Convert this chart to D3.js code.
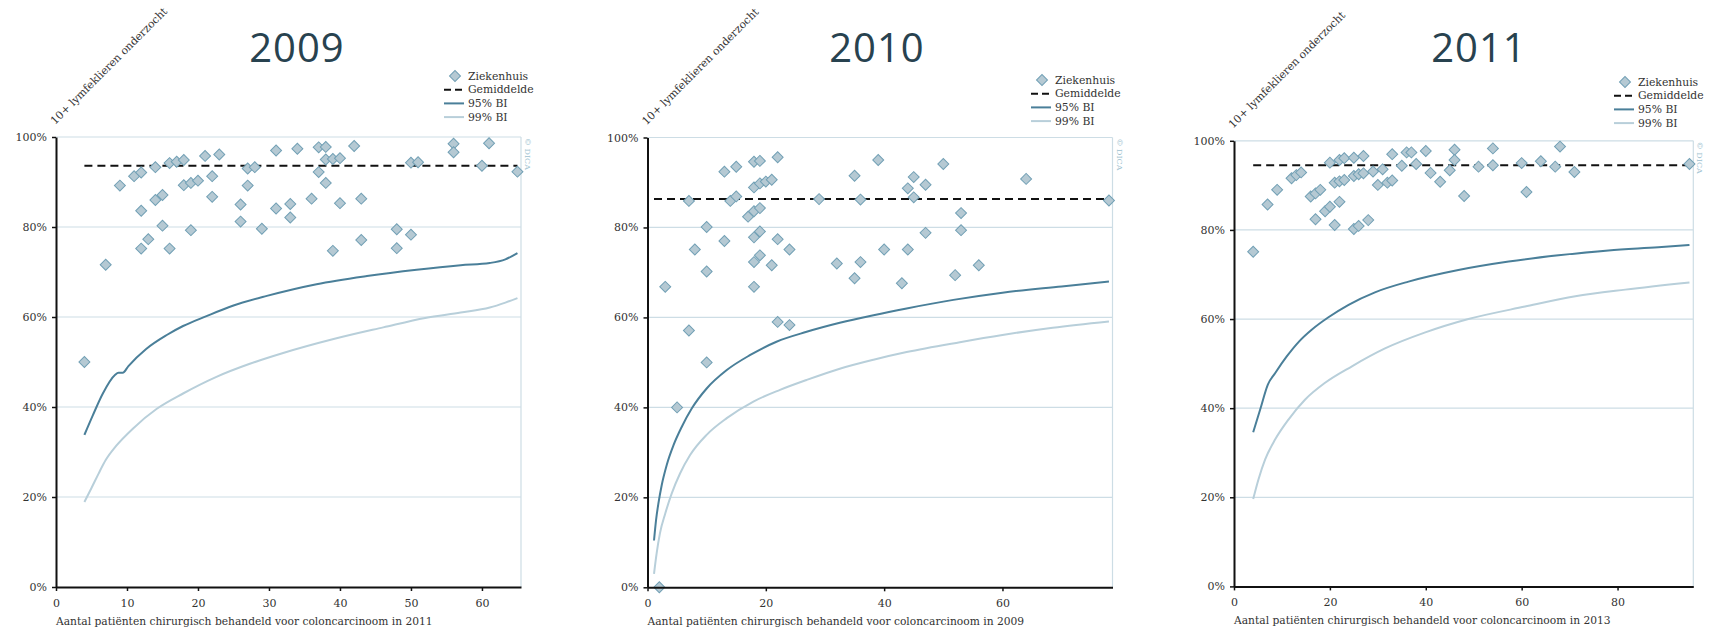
<!DOCTYPE html>
<html>
<head>
<meta charset="utf-8">
<script src="https://cdn.jsdelivr.net/npm/d3@7"></script>
<style>
  body { margin: 0; background: #ffffff; }
  svg { display: block; }
  .tick text { font-family: "DejaVu Serif", serif; font-size: 11px; fill: #333; }
</style>
</head>
<body>
<svg id="chart" width="1713" height="630"></svg>
<script>
// ---- data -------------------------------------------------------------
const years = ["2009", "2010", "2011"];
const axisTitles = [
  "Aantal patiënten chirurgisch behandeld voor coloncarcinoom in 2011",
  "Aantal patiënten chirurgisch behandeld voor coloncarcinoom in 2009",
  "Aantal patiënten chirurgisch behandeld voor coloncarcinoom in 2013"
];
const yLabel = "10+ lymfeklieren onderzocht";
const legendLabels = ["Ziekenhuis", "Gemiddelde", "95% BI", "99% BI"];
const yTicks = [0, 20, 40, 60, 80, 100];
const xTicks2009 = [0, 10, 20, 30, 40, 50, 60];
const xTicks2010 = [0, 20, 40, 60];
const xTicks2011 = [0, 20, 40, 60, 80];

// hospitals: [patients, % with 10+ lymph nodes examined]
const hospitals2009 = [
  [4,50.0],[7,71.6],[9,89.2],[11,91.3],[12,92.1],[12,83.6],[12,75.2],[13,77.3],[14,93.3],[14,86.0],
  [15,87.1],[15,80.3],[16,94.2],[16,75.2],[17,94.5],[18,94.9],[18,89.3],[19,89.8],[19,79.3],[20,90.3],
  [21,95.8],[22,91.3],[22,86.7],[23,96.1],[26,85.0],[26,81.2],[27,93.0],[27,89.2],[28,93.3],[29,79.6],
  [31,97.0],[31,84.1],[33,85.1],[33,82.1],[34,97.4],[36,86.3],[37,97.7],[37,92.2],[38,97.8],[38,95.0],
  [38,89.8],[39,95.1],[39,74.7],[40,95.3],[40,85.3],[42,98.0],[43,86.3],[43,77.1],[48,79.5],[48,75.3],
  [50,94.3],[50,78.3],[51,94.4],[56,98.5],[56,96.6],[60,93.6],[61,98.6],[65,92.3]
];
const hospitals2010 = [
  [2,0],[3,66.8],[5,40.0],[7,85.9],[7,57.1],[8,75.1],[10,80.1],[10,70.2],[10,50.0],[13,92.4],
  [13,77.0],[14,85.9],[15,93.5],[15,86.9],[17,82.4],[18,94.6],[18,88.9],[18,83.6],[18,77.8],[18,72.3],
  [18,66.8],[19,94.8],[19,89.8],[19,84.3],[19,79.1],[19,73.8],[20,90.2],[21,90.6],[21,71.6],[22,95.6],
  [22,77.4],[22,59.0],[24,75.1],[24,58.3],[29,86.3],[32,72.0],[35,91.5],[35,68.7],[36,86.2],[36,72.3],
  [39,95.0],[40,75.1],[43,67.6],[44,88.7],[44,75.1],[45,91.2],[45,86.7],[47,89.5],[47,78.8],[50,94.1],
  [52,69.4],[53,83.2],[53,79.4],[56,71.6],[64,90.8],[78,86.0]
];
const hospitals2011 = [
  [4,75.1],[7,85.7],[9,89.0],[12,91.6],[13,92.3],[14,92.9],[16,87.5],[17,88.2],[17,82.4],[18,89.0],
  [19,84.2],[20,95.1],[20,85.2],[21,90.6],[21,81.1],[22,95.7],[22,90.9],[22,86.3],[23,96.1],[23,91.2],
  [25,96.2],[25,92.1],[25,80.2],[26,80.9],[26,92.5],[27,96.6],[27,92.7],[28,82.2],[29,93.1],[30,90.1],
  [31,93.6],[32,90.6],[33,97.0],[33,91.1],[35,94.4],[36,97.4],[37,97.4],[38,94.8],[40,97.7],[41,92.8],
  [43,90.8],[45,93.4],[46,98.0],[46,95.7],[48,87.6],[51,94.2],[54,98.3],[54,94.5],[60,95.0],[61,88.5],
  [64,95.4],[67,94.2],[68,98.7],[71,93.0],[95,94.8]
];

// national averages (%)
const mean2009 = 93.6;
const mean2010 = 86.35;
const mean2011 = 94.5;

// lower control limits: [patients, %]
const ci95_2009 = [
  [4,33.8],[5.2,38.2],[6.6,43.0],[8.3,47.1],[8.8,47.6],[9.4,47.6],[10.2,49.1],[12.7,52.9],[15.6,56.0],
  [17.9,58.0],[21.2,60.2],[24.9,62.5],[29.7,64.7],[36.7,67.3],[43.8,69.1],[50.8,70.5],[57,71.5],
  [61.1,72.0],[63.3,72.8],[65,74.2]
];
const ci99_2009 = [
  [4,18.9],[5,22.0],[6,25.2],[7,28.2],[8.5,31.4],[10.9,35.3],[14.2,39.6],[17.9,43.0],[22.6,46.7],
  [27.3,49.6],[32,52.0],[39.1,55.1],[46.1,57.7],[52,59.8],[57,61.0],[61.1,62.1],[63.3,63.2],[65,64.2]
];
const ci95_2010 = [
  [1.1,10.4],[1.45,15.0],[1.85,18.7],[2.4,22.7],[3.25,27.2],[4.4,31.6],[5.8,35.7],[7.5,39.8],[10,44.2],
  [13.4,48.3],[17.3,51.6],[21.8,54.6],[26.9,56.8],[32.5,58.8],[38.2,60.5],[43.8,62.0],[51.7,63.9],
  [60,65.5],[70,66.9],[78,68.0]
];
const ci99_2010 = [
  [1.1,3.0],[1.55,7.6],[2.1,12.0],[3.0,16.4],[4.1,20.9],[5.5,25.3],[7.2,29.4],[10,33.9],[13.4,37.6],
  [17.9,41.3],[22.4,43.9],[26.9,46.1],[32.5,48.6],[38.2,50.6],[43.8,52.3],[52.8,54.5],[60,56.1],
  [68.5,57.7],[78,59.1]
];
const ci95_2011 = [
  [4,34.6],[5.46,39.7],[7.06,45.3],[8.6,47.9],[11,51.6],[13.6,55.0],[16.2,57.6],[19.7,60.4],[23.9,63.2],
  [29.4,66.0],[36.4,68.4],[46.8,71.0],[57.3,72.9],[67.7,74.3],[78.1,75.4],[88.5,76.1],[95,76.6]
];
const ci99_2011 = [
  [4,19.6],[5.1,24.0],[6.5,28.5],[8.6,33.0],[11.4,37.5],[14.8,41.9],[19,45.7],[24.6,49.4],[31.5,53.4],
  [39.9,57.0],[48.9,60.0],[60.7,62.8],[71.2,65.1],[81.6,66.6],[95,68.2]
];

// ---- layout per panel ------------------------------------------------
const panels = [
  { title: years[0], axisTitle: axisTitles[0], points: hospitals2009, mean: mean2009,
    ci95: ci95_2009, ci99: ci99_2009, xTicks: xTicks2009, xMax: 65.5,
    left: 56, right: 521, top: 137, bottom: 587, titleX: 297, titleY: 62,
    legendX: 455, legendY: 76 },
  { title: years[1], axisTitle: axisTitles[1], points: hospitals2010, mean: mean2010,
    ci95: ci95_2010, ci99: ci99_2010, xTicks: xTicks2010, xMax: 78.6,
    left: 647.5, right: 1112.5, top: 137.5, bottom: 587.3, titleX: 877, titleY: 62,
    legendX: 1042, legendY: 80 },
  { title: years[2], axisTitle: axisTitles[2], points: hospitals2011, mean: mean2011,
    ci95: ci95_2011, ci99: ci99_2011, xTicks: xTicks2011, xMax: 95.8,
    left: 1234, right: 1693.3, top: 140.8, bottom: 586.4, titleX: 1479, titleY: 62,
    legendX: 1625, legendY: 82 }
];

const COLORS = {
  title: "#28424f",
  grid: "#cddde5",
  ci95: "#4a7f99",
  ci99: "#b8cfda",
  mean: "#111111",
  diamondFill: "#b5c9d3",
  diamondStroke: "#72a0b5",
  text: "#333333",
  credit: "#9dbfcf"
};
const SERIF = "'DejaVu Serif', serif";

const svg = d3.select("#chart");
const diamond = d3.symbol().type(d3.symbolSquare).size(60);

panels.forEach(p => {
  const x = d3.scaleLinear().domain([0, p.xMax]).range([p.left, p.right]);
  const y = d3.scaleLinear().domain([0, 100]).range([p.bottom, p.top]);
  const g = svg.append("g");

  // title
  g.append("text")
    .attr("x", p.titleX).attr("y", p.titleY)
    .attr("text-anchor", "middle")
    .attr("font-family", "'Open Sans', sans-serif")
    .attr("font-size", 40).attr("letter-spacing", 1)
    .attr("fill", COLORS.title)
    .text(p.title);

  // rotated y label above the axis
  g.append("text")
    .attr("transform", `translate(${p.left - 1},${p.top - 12}) rotate(-45)`)
    .attr("font-family", SERIF).attr("font-size", 10.8)
    .attr("fill", COLORS.text)
    .text(yLabel);

  // gridlines and right border
  g.append("g").selectAll("line").data(yTicks.filter(t => t > 0)).join("line")
    .attr("x1", p.left).attr("x2", p.right)
    .attr("y1", d => y(d)).attr("y2", d => y(d))
    .attr("stroke", COLORS.grid).attr("stroke-width", 1.2);
  g.append("line")
    .attr("x1", p.right).attr("x2", p.right)
    .attr("y1", y(100)).attr("y2", y(0))
    .attr("stroke", COLORS.grid).attr("stroke-width", 1.2);

  // copyright mark
  g.append("text")
    .attr("transform", `translate(${p.right + 4},${p.top + 1}) rotate(90)`)
    .attr("font-family", SERIF).attr("font-size", 8)
    .attr("fill", COLORS.credit)
    .text("© DICA");

  // confidence limits
  const line = d3.line().x(d => x(d[0])).y(d => y(d[1])).curve(d3.curveMonotoneX);
  g.append("path").datum(p.ci99).attr("d", line)
    .attr("fill", "none").attr("stroke", COLORS.ci99).attr("stroke-width", 2);
  g.append("path").datum(p.ci95).attr("d", line)
    .attr("fill", "none").attr("stroke", COLORS.ci95).attr("stroke-width", 2);

  // national mean
  const x0 = p.ci95[0][0], x1 = p.ci95[p.ci95.length - 1][0];
  g.append("line")
    .attr("x1", x(x0)).attr("x2", x(x1))
    .attr("y1", y(p.mean)).attr("y2", y(p.mean))
    .attr("stroke", COLORS.mean).attr("stroke-width", 2)
    .attr("stroke-dasharray", "8,5");

  // hospitals
  g.append("g").selectAll("path").data(p.points).join("path")
    .attr("d", diamond)
    .attr("transform", d => `translate(${x(d[0])},${y(d[1])}) rotate(45)`)
    .attr("fill", COLORS.diamondFill)
    .attr("stroke", COLORS.diamondStroke).attr("stroke-width", 1);

  // axes
  const yAxis = g.append("g").attr("transform", `translate(${p.left},0)`)
    .call(d3.axisLeft(y).tickValues(yTicks).tickFormat(d => d + "%")
      .tickSize(4).tickSizeOuter(0).tickPadding(5));
  const xAxis = g.append("g").attr("transform", `translate(0,${p.bottom})`)
    .call(d3.axisBottom(x).tickValues(p.xTicks).tickFormat(d3.format("d"))
      .tickSize(4).tickSizeOuter(0).tickPadding(8));
  [yAxis, xAxis].forEach(a => {
    a.select(".domain").attr("stroke", "#111").attr("stroke-width", 2);
    a.selectAll(".tick line").attr("stroke", "#111").attr("stroke-width", 1.5);
  });

  // x axis title
  g.append("text")
    .attr("x", p.left).attr("y", p.bottom + 38)
    .attr("font-family", SERIF).attr("font-size", 10.7)
    .attr("fill", COLORS.text)
    .text(p.axisTitle);

  // legend
  const lg = g.append("g").attr("transform", `translate(${p.legendX},${p.legendY})`);
  const rowH = 13.7;
  lg.append("path").attr("d", diamond)
    .attr("transform", "rotate(45)")
    .attr("fill", COLORS.diamondFill).attr("stroke", COLORS.diamondStroke);
  lg.append("line").attr("x1", -11).attr("x2", 9).attr("y1", rowH).attr("y2", rowH)
    .attr("stroke", COLORS.mean).attr("stroke-width", 2).attr("stroke-dasharray", "7,4");
  lg.append("line").attr("x1", -11).attr("x2", 9).attr("y1", rowH * 2).attr("y2", rowH * 2)
    .attr("stroke", COLORS.ci95).attr("stroke-width", 2);
  lg.append("line").attr("x1", -11).attr("x2", 9).attr("y1", rowH * 3).attr("y2", rowH * 3)
    .attr("stroke", COLORS.ci99).attr("stroke-width", 2);
  lg.selectAll("text.lab").data(legendLabels).join("text")
    .attr("class", "lab")
    .attr("x", 13).attr("y", (d, i) => i * rowH)
    .attr("dy", "0.35em")
    .attr("font-family", SERIF).attr("font-size", 10.8)
    .attr("fill", COLORS.text)
    .text(d => d);
});
</script>
</body>
</html>
